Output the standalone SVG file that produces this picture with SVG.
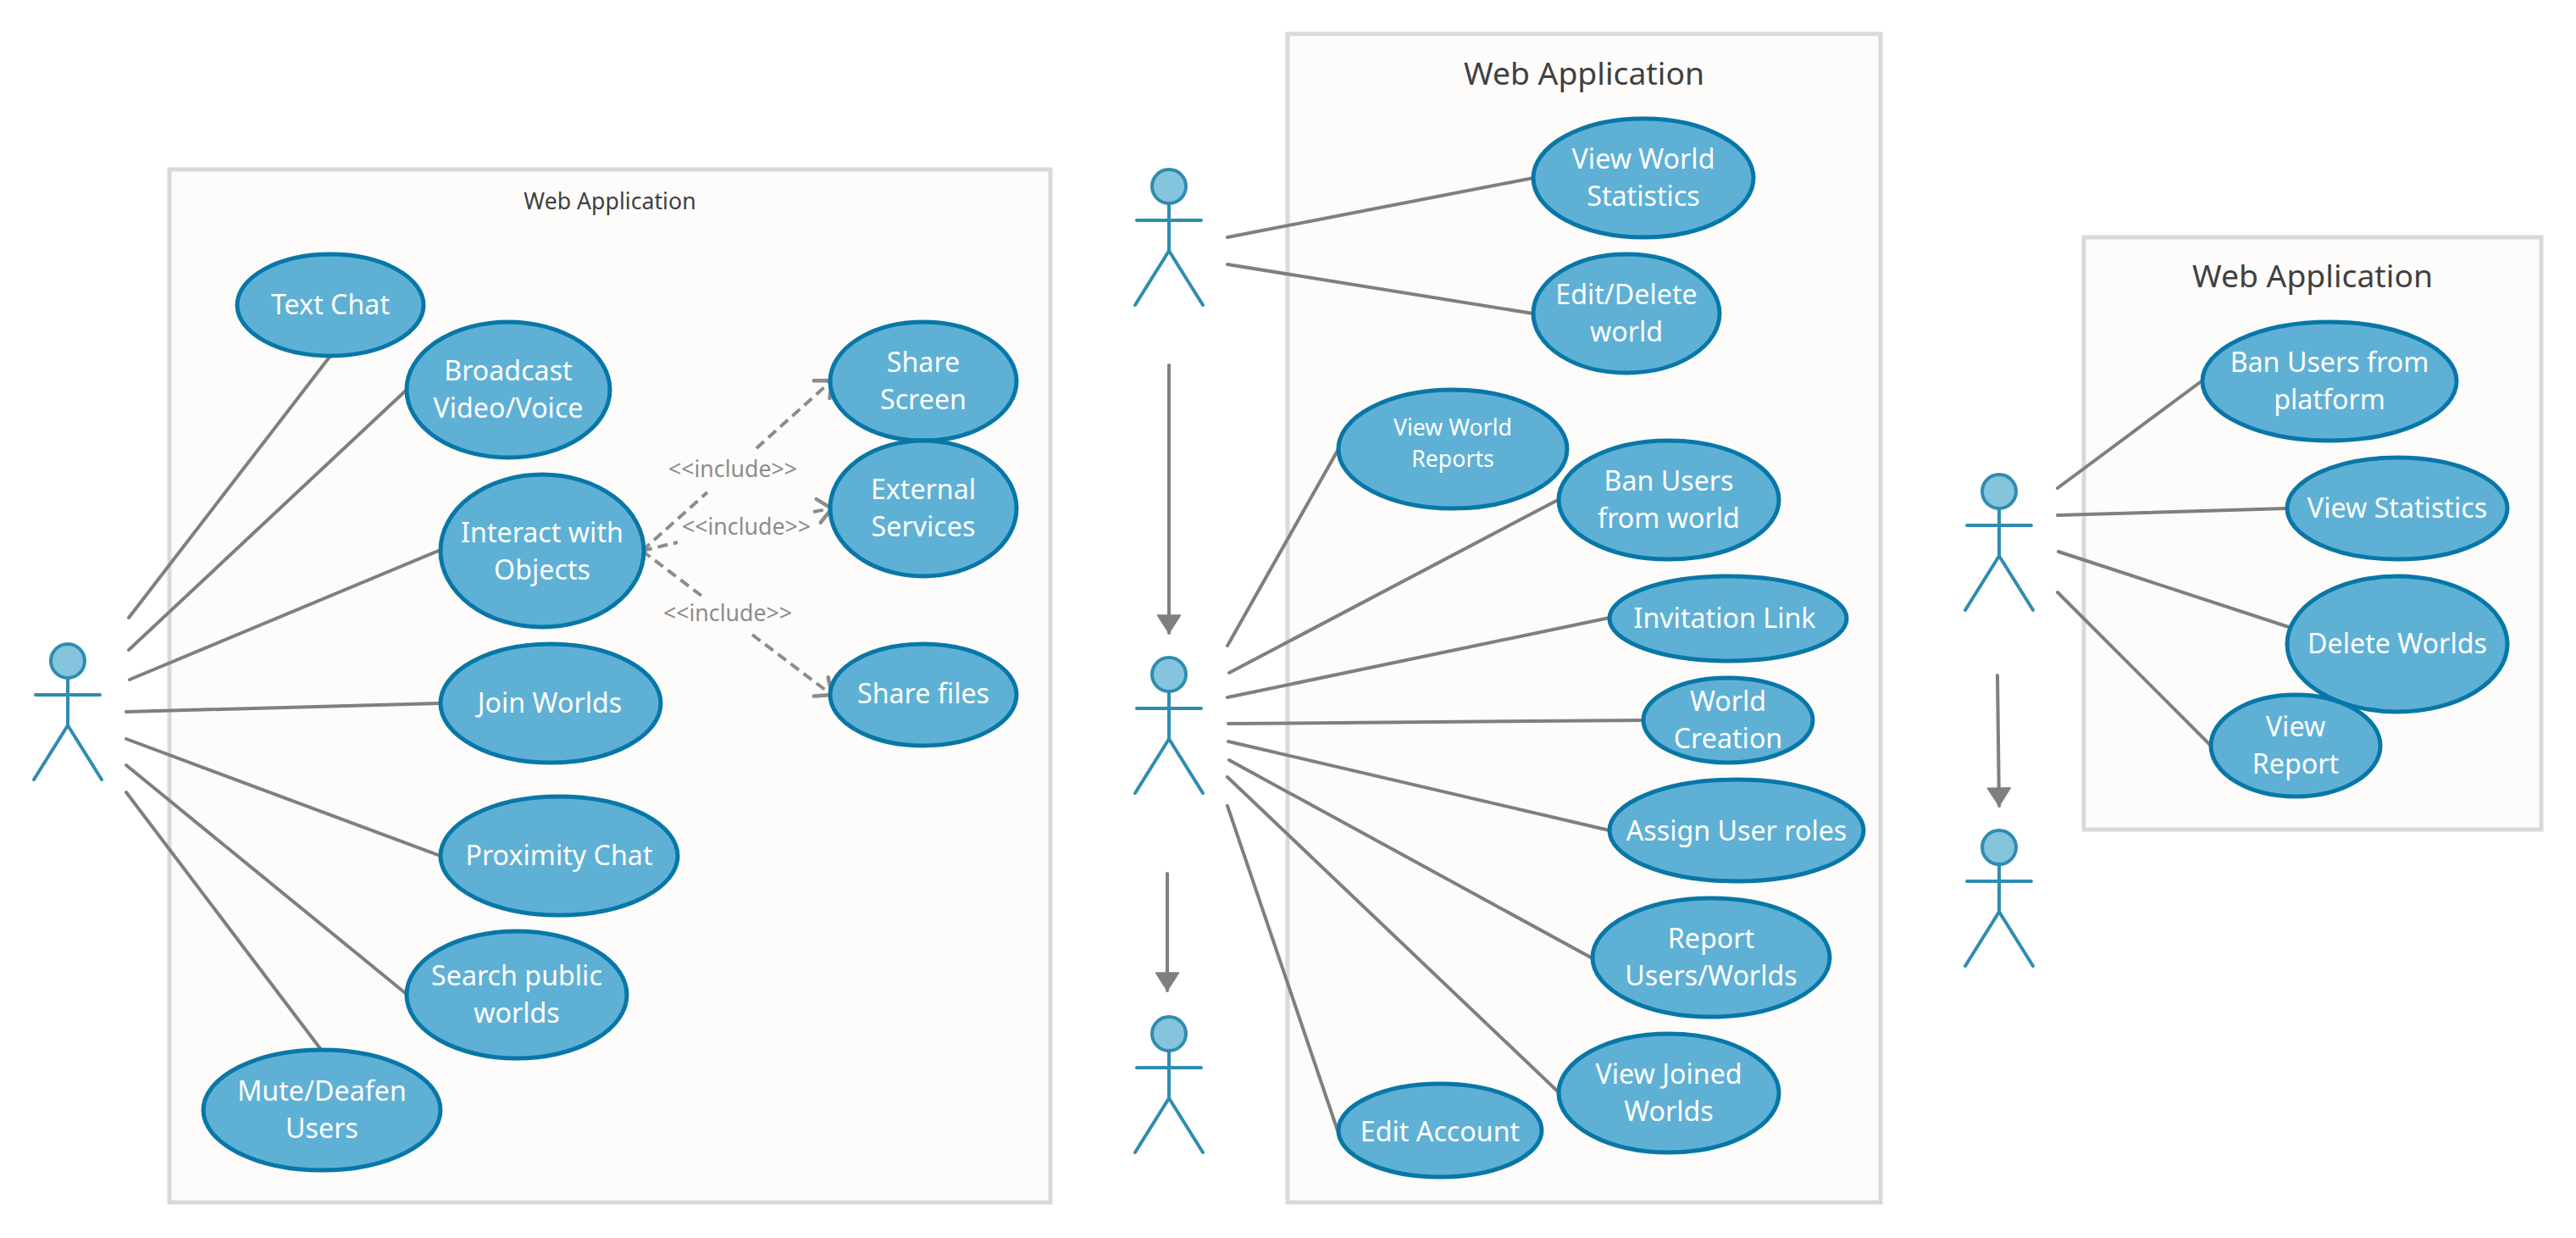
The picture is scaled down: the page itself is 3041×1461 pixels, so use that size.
<svg xmlns="http://www.w3.org/2000/svg" width="3041" height="1461" viewBox="0 0 3041 1461">
<style>
text{font-family:"Noto Sans","Open Sans",sans-serif;text-anchor:middle}
.box{fill:#fdfcfb;stroke:#d9d9d9;stroke-width:5}
.title{fill:#404040}
.uc ellipse{fill:#5fb0d5;stroke:#0877a8;stroke-width:5}
.uc text{fill:#fff;font-size:32.2px}
.actor ellipse{fill:#85c4dd;stroke:#2f8cb0;stroke-width:4}
.actor path{fill:none;stroke:#2f8cb0;stroke-width:4;stroke-linecap:round}
.c line{stroke:#7f7f7f;stroke-width:4;stroke-linecap:round}
.d line{stroke:#8c8c8c;stroke-width:4;stroke-dasharray:12 7;fill:none}
.lbl{fill:#8c8c8c;font-size:26.7px}
</style>
<defs>
<marker id="tri" markerUnits="userSpaceOnUse" markerWidth="30" markerHeight="30" refX="23" refY="15" orient="auto"><path d="M2 1.5L23 15L2 28.5Z" fill="#7f7f7f" stroke="#7f7f7f" stroke-width="1.5" stroke-linejoin="round"/></marker>
<marker id="open" markerUnits="userSpaceOnUse" markerWidth="30" markerHeight="36" refX="22" refY="18" orient="auto"><path d="M6 4L22 18L6 32" fill="none" stroke="#8c8c8c" stroke-width="4.5" stroke-linecap="round"/></marker>
</defs>
<rect width="3041" height="1461" fill="#fff"/>
<g id="boundaries">
<g id="box1"><rect class="box" x="200" y="200" width="1040" height="1219"/><text class="title" x="720" y="247" font-size="26.7">Web Application</text></g>
<g id="box2"><rect class="box" x="1520" y="40" width="700" height="1379"/><text class="title" x="1870" y="100" font-size="37.3">Web Application</text></g>
<g id="box3"><rect class="box" x="2460" y="280" width="540" height="699"/><text class="title" x="2730" y="339" font-size="37.3">Web Application</text></g>
</g>
<g id="connectors">
<g class="c">
<line x1="152" y1="729" x2="390" y2="420"/>
<line x1="152" y1="767" x2="480" y2="460"/>
<line x1="153" y1="802" x2="520" y2="649"/>
<line x1="149" y1="840" x2="520" y2="830"/>
<line x1="149" y1="872" x2="520" y2="1010"/>
<line x1="149" y1="903" x2="481" y2="1174"/>
<line x1="149" y1="935" x2="380" y2="1240"/>
<line x1="1449" y1="280" x2="1810" y2="210"/>
<line x1="1449" y1="312" x2="1810" y2="370"/>
<line x1="1449" y1="762" x2="1580" y2="530"/>
<line x1="1451" y1="794" x2="1841" y2="589"/>
<line x1="1449" y1="823" x2="1900" y2="729"/>
<line x1="1450" y1="854" x2="1941" y2="850"/>
<line x1="1450" y1="875" x2="1900" y2="980"/>
<line x1="1451" y1="897" x2="1880" y2="1131"/>
<line x1="1449" y1="917" x2="1841" y2="1290"/>
<line x1="1449" y1="951" x2="1580" y2="1337"/>
<line x1="2429" y1="576" x2="2600" y2="449"/>
<line x1="2429" y1="608" x2="2700" y2="600"/>
<line x1="2430" y1="651" x2="2702" y2="740"/>
<line x1="2429" y1="699" x2="2610" y2="880"/>
<line x1="1380" y1="431" x2="1380" y2="747" marker-end="url(#tri)"/>
<line x1="1378" y1="1031" x2="1378" y2="1169" marker-end="url(#tri)"/>
<line x1="2358" y1="797" x2="2360" y2="951" marker-end="url(#tri)"/>
</g>
<g class="d">
<line x1="758" y1="650" x2="835" y2="581"/>
<line x1="893" y1="529" x2="982" y2="449" marker-end="url(#open)"/>
<line x1="758" y1="650" x2="800" y2="640"/>
<line x1="960" y1="604" x2="982" y2="600" marker-end="url(#open)"/>
<line x1="758" y1="650" x2="828" y2="703"/>
<line x1="888" y1="749" x2="982" y2="820" marker-end="url(#open)"/>
</g>
<text class="lbl" x="865" y="563">&lt;&lt;include&gt;&gt;</text>
<text class="lbl" x="881" y="631">&lt;&lt;include&gt;&gt;</text>
<text class="lbl" x="859" y="733">&lt;&lt;include&gt;&gt;</text>
</g>
<g id="actor1" class="actor" transform="translate(80 780)"><ellipse rx="20" ry="20"/><path d="M0 20V76M-38 40H38M-40 140L0 76L40 140"/></g>
<g id="actor2" class="actor" transform="translate(1380 220)"><ellipse rx="20" ry="20"/><path d="M0 20V76M-38 40H38M-40 140L0 76L40 140"/></g>
<g id="actor3" class="actor" transform="translate(1380 796)"><ellipse rx="20" ry="20"/><path d="M0 20V76M-38 40H38M-40 140L0 76L40 140"/></g>
<g id="actor4" class="actor" transform="translate(1380 1220)"><ellipse rx="20" ry="20"/><path d="M0 20V76M-38 40H38M-40 140L0 76L40 140"/></g>
<g id="actor5" class="actor" transform="translate(2360 580)"><ellipse rx="20" ry="20"/><path d="M0 20V76M-38 40H38M-40 140L0 76L40 140"/></g>
<g id="actor6" class="actor" transform="translate(2360 1000)"><ellipse rx="20" ry="20"/><path d="M0 20V76M-38 40H38M-40 140L0 76L40 140"/></g>
<g id="uc-text-chat" class="uc"><ellipse cx="390" cy="360" rx="110" ry="60"/><text x="390" y="371">Text Chat</text></g>
<g id="uc-broadcast" class="uc"><ellipse cx="600" cy="460" rx="120" ry="80"/><text x="600" y="449">Broadcast</text><text x="600" y="493">Video/Voice</text></g>
<g id="uc-share-screen" class="uc"><ellipse cx="1090" cy="450" rx="110" ry="70"/><text x="1090" y="439">Share</text><text x="1090" y="483">Screen</text></g>
<g id="uc-external" class="uc"><ellipse cx="1090" cy="600" rx="110" ry="80"/><text x="1090" y="589">External</text><text x="1090" y="633">Services</text></g>
<g id="uc-interact" class="uc"><ellipse cx="640" cy="650" rx="120" ry="90"/><text x="640" y="640">Interact with</text><text x="640" y="684">Objects</text></g>
<g id="uc-join" class="uc"><ellipse cx="650" cy="830" rx="130" ry="70"/><text x="649" y="841">Join Worlds</text></g>
<g id="uc-share-files" class="uc"><ellipse cx="1090" cy="820" rx="110" ry="60"/><text x="1090" y="830">Share files</text></g>
<g id="uc-proximity" class="uc"><ellipse cx="660" cy="1010" rx="140" ry="70"/><text x="660" y="1021">Proximity Chat</text></g>
<g id="uc-search" class="uc"><ellipse cx="610" cy="1174" rx="130" ry="75"/><text x="610" y="1163">Search public</text><text x="610" y="1207">worlds</text></g>
<g id="uc-mute" class="uc"><ellipse cx="380" cy="1310" rx="140" ry="71"/><text x="380" y="1299">Mute/Deafen</text><text x="380" y="1343">Users</text></g>
<g id="uc-view-world-stats" class="uc"><ellipse cx="1940" cy="210" rx="130" ry="70"/><text x="1940" y="199">View World</text><text x="1940" y="243">Statistics</text></g>
<g id="uc-edit-delete" class="uc"><ellipse cx="1920" cy="370" rx="110" ry="70"/><text x="1920" y="359">Edit/Delete</text><text x="1920" y="403">world</text></g>
<g id="uc-view-reports" class="uc"><ellipse cx="1715" cy="530" rx="135" ry="70"/><text x="1715" y="514" style="font-size:26.7px">View World</text><text x="1715" y="551" style="font-size:26.7px">Reports</text></g>
<g id="uc-ban-world" class="uc"><ellipse cx="1970" cy="590" rx="130" ry="70"/><text x="1970" y="579">Ban Users</text><text x="1970" y="623">from world</text></g>
<g id="uc-invite" class="uc"><ellipse cx="2040" cy="730" rx="140" ry="50"/><text x="2036" y="741">Invitation Link</text></g>
<g id="uc-creation" class="uc"><ellipse cx="2040" cy="850" rx="100" ry="50"/><text x="2040" y="839">World</text><text x="2040" y="883">Creation</text></g>
<g id="uc-assign" class="uc"><ellipse cx="2050" cy="980" rx="150" ry="60"/><text x="2050" y="992">Assign User roles</text></g>
<g id="uc-report" class="uc"><ellipse cx="2020" cy="1130" rx="140" ry="70"/><text x="2020" y="1119">Report</text><text x="2020" y="1163">Users/Worlds</text></g>
<g id="uc-joined" class="uc"><ellipse cx="1970" cy="1290" rx="130" ry="70"/><text x="1970" y="1279">View Joined</text><text x="1970" y="1323">Worlds</text></g>
<g id="uc-edit-account" class="uc"><ellipse cx="1700" cy="1334" rx="120" ry="55"/><text x="1700" y="1347">Edit Account</text></g>
<g id="uc-ban-platform" class="uc"><ellipse cx="2750" cy="450" rx="150" ry="70"/><text x="2750" y="439">Ban Users from</text><text x="2750" y="483">platform</text></g>
<g id="uc-stats" class="uc"><ellipse cx="2830" cy="600" rx="130" ry="60"/><text x="2830" y="611">View Statistics</text></g>
<g id="uc-delete" class="uc"><ellipse cx="2830" cy="760" rx="130" ry="80"/><text x="2830" y="771">Delete Worlds</text></g>
<g id="uc-report-view" class="uc"><ellipse cx="2710" cy="880" rx="100" ry="60"/><text x="2710" y="869">View</text><text x="2710" y="913">Report</text></g>
</svg>
